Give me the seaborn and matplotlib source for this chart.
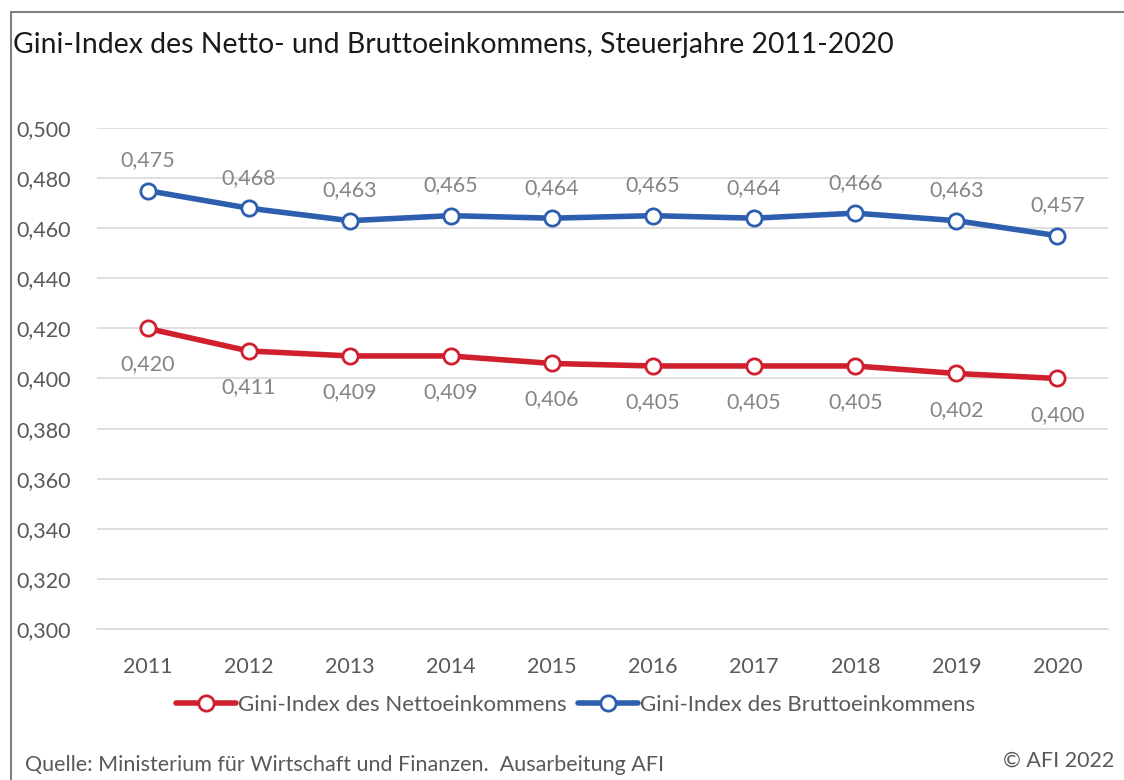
import numpy as np
import pandas as pd
import matplotlib.pyplot as plt
import seaborn as sns
from matplotlib.ticker import FuncFormatter, FixedLocator

# Daten
jahre = [2011, 2012, 2013, 2014, 2015, 2016, 2017, 2018, 2019, 2020]
netto = [0.420, 0.411, 0.409, 0.409, 0.406, 0.405, 0.405, 0.405, 0.402, 0.400]
brutto = [0.475, 0.468, 0.463, 0.465, 0.464, 0.465, 0.464, 0.466, 0.463, 0.457]
serien = ['Gini-Index des Nettoeinkommens', 'Gini-Index des Bruttoeinkommens']

df = pd.DataFrame({
    'Jahr': jahre * 2,
    'Gini': netto + brutto,
    'Serie': [serien[0]] * len(jahre) + [serien[1]] * len(jahre),
})

sns.set_style('white')
plt.rcParams['font.family'] = ['Lato', 'DejaVu Sans']

rot = '#d0202e'
blau = '#2d5fae'
grau_text = '#595959'
fs = 15.5

fig = plt.figure(figsize=(11.24, 7.8), dpi=100)
ax = fig.add_axes([0.0863, 0.1936, 0.8995, 0.6423])

for serie, farbe in zip(serien, [rot, blau]):
    sns.lineplot(data=df[df['Serie'] == serie], x='Jahr', y='Gini', ax=ax,
                 color=farbe, lw=4, marker='o', markersize=11,
                 markerfacecolor='white', markeredgecolor=farbe,
                 markeredgewidth=2, label=serie, zorder=3)

# Datenbeschriftungen
for x, y in zip(jahre, brutto):
    ax.annotate(f'{y:.3f}'.replace('.', ','), (x, y), xytext=(0, 22),
                textcoords='offset points', ha='center', va='center',
                fontsize=fs, color='#858585')
for x, y in zip(jahre, netto):
    ax.annotate(f'{y:.3f}'.replace('.', ','), (x, y), xytext=(0, -26),
                textcoords='offset points', ha='center', va='center',
                fontsize=fs, color='#858585')

ax.set_ylim(0.3, 0.5)
ax.set_xlim(2010.5, 2020.5)
ax.set_yticks(np.arange(0.30, 0.501, 0.02))
ax.yaxis.set_major_formatter(FuncFormatter(lambda v, p: f'{v:.3f}'.replace('.', ',')))
ax.set_xticks(jahre)
ax.xaxis.set_minor_locator(FixedLocator([2010.5, 2020.5]))
ax.grid(axis='y', color='#d9d9d9', lw=1.2)
ax.set_xlabel('')
ax.set_ylabel('')

for s in ['left', 'right', 'top']:
    ax.spines[s].set_visible(False)
ax.spines['bottom'].set_color('#d9d9d9')
ax.spines['bottom'].set_linewidth(1.2)
ax.tick_params(axis='y', length=0, pad=19, labelsize=fs, labelcolor=grau_text)
ax.tick_params(axis='x', which='both', length=6, color='#d9d9d9', width=1.2,
               direction='out', pad=14, labelsize=fs, labelcolor=grau_text)

ax.legend(loc='center', bbox_to_anchor=(0.512, 0.096), bbox_transform=fig.transFigure,
          ncol=2, frameon=False, fontsize=16, handlelength=2.7, handletextpad=0.1,
          columnspacing=0.5, labelcolor=grau_text)

fig.text(0.012, 0.942, 'Gini-Index des Netto- und Bruttoeinkommens, Steuerjahre 2011-2020',
         fontsize=20.4, color='#1a1a1a', ha='left', va='center')
fig.text(0.022, 0.019, 'Quelle: Ministerium für Wirtschaft und Finanzen.  Ausarbeitung AFI',
         fontsize=fs, color=grau_text, ha='left', va='center')
fig.text(0.991, 0.025, '© AFI 2022', fontsize=fs, color=grau_text, ha='right', va='center')

fig.add_artist(plt.Rectangle((0.0095, -0.01), 1.0, 0.9946, transform=fig.transFigure,
                             fill=False, edgecolor='#808080', lw=1.5))

fig.savefig('out.png', dpi=100)
